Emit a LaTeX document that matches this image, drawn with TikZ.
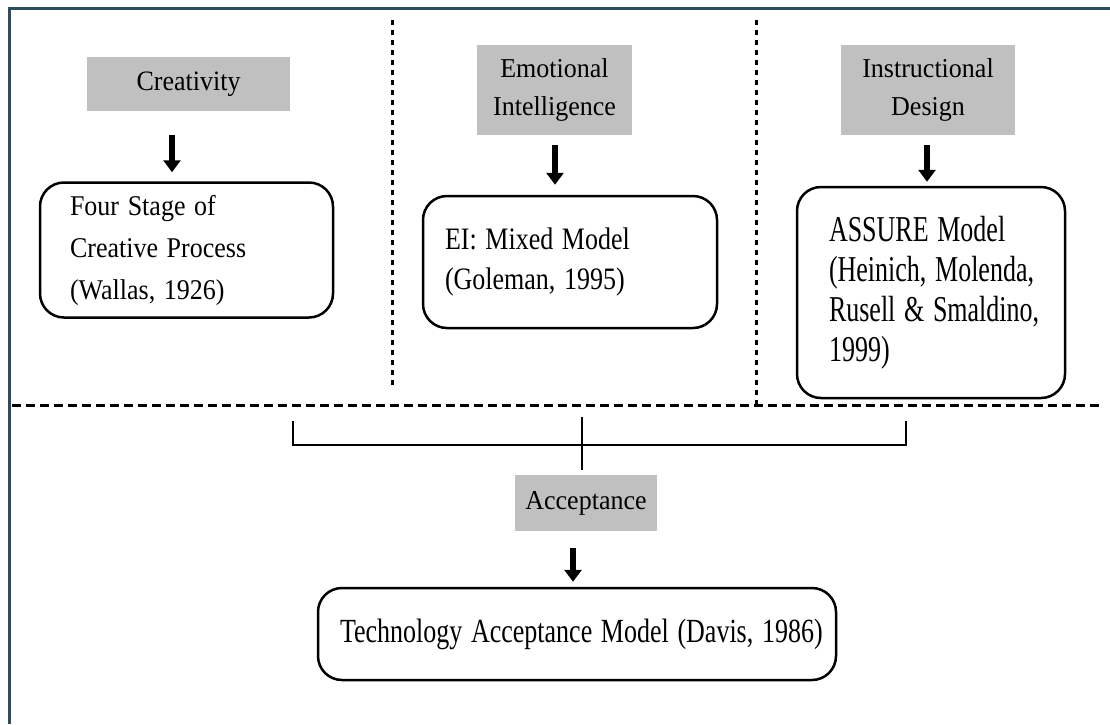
\documentclass[tikz,border=0pt]{standalone}
\usepackage{fontspec}
\setmainfont{Liberation Serif}
\usetikzlibrary{arrows.meta}
\newcommand\vsc[2]{\scalebox{1}[#1]{#2}}
\definecolor{frameblue}{HTML}{2F4B5C}
\definecolor{labgray}{HTML}{C0C0C0}
\begin{document}
\begin{tikzpicture}[x=1pt,y=-1pt,
  labelbox/.style={fill=labgray, inner sep=0pt, align=center, font=\fontsize{26}{38}\selectfont},
  modelbox/.style={draw, line width=2.5pt, rounded corners=24pt, inner ysep=0pt, align=left, font=\fontsize{26}{40}\selectfont},
  bigarrow/.style={line width=6pt, -{Triangle[width=17pt,length=12pt]}},
  sepline/.style={line width=3pt, dash pattern=on 9pt off 5pt},
  vsepline/.style={line width=3pt, dash pattern=on 5pt off 5pt},
  bracketline/.style={line width=2.5pt}]
\useasboundingbox (0,0) rectangle (1110,724);
\fill[white] (0,0) rectangle (1110,724);
\draw[frameblue, line width=3pt] (9,724) -- (9,8) -- (1110,8);

% labels
\node[labelbox, minimum width=203pt, minimum height=54pt] (cre) at (188.5,84) {\vsc{1.08}{Creativity}};
\node[labelbox, minimum width=155pt, minimum height=90pt] (emo) at (554.5,90) {\vsc{1.05}{Emotional}\\\vsc{1.05}{Intelligence}};
\node[labelbox, minimum width=174pt, minimum height=90pt] (ins) at (928,90) {\vsc{1.05}{Instructional}\\\vsc{1.05}{Design}};
\node[labelbox, minimum width=142pt, minimum height=56pt] (acc) at (586,503) {\vsc{1.05}{Acceptance}};

% model boxes
\node[modelbox, font=\fontsize{26}{42}\selectfont, text width=233pt, inner xsep=30pt, minimum height=135pt] (b1) at (186.5,250)
  {\vsc{1.1}{Four Stage of}\\\vsc{1.1}{Creative Process}\\\vsc{1.1}{(Wallas, 1926)}};
\node[modelbox, text width=250pt, inner xsep=22pt, minimum height=132pt] (b2) at (570,262)
  {\vsc{1.2}{EI: Mixed Model}\\\vsc{1.2}{(Goleman, 1995)}};
\node[modelbox, text width=204pt, inner xsep=32pt, minimum height=211pt] (b3) at (931,292.5)
  {\vsc{1.4}{ASSURE Model}\\\vsc{1.4}{(Heinich, Molenda,}\\\vsc{1.4}{Rusell \& Smaldino,}\\\vsc{1.4}{1999)}};
\node[modelbox, text width=474pt, inner xsep=22pt, minimum height=92pt] (b4) at (577,634)
  {\vsc{1.3}{Technology Acceptance Model (Davis, 1986)}};

% arrows
\coordinate (x1) at (172,0);
\coordinate (x2) at (555,0);
\coordinate (x3) at (927,0);
\coordinate (x4) at (573,0);
\draw[bigarrow, shorten <=24pt, shorten >=9pt] (cre.south -| x1) -- (b1.north -| x1);
\draw[bigarrow, shorten <=10pt, shorten >=10pt] (emo.south -| x2) -- (b2.north -| x2);
\draw[bigarrow, shorten <=10pt, shorten >=4pt] (ins.south -| x3) -- (b3.north -| x3);
\draw[bigarrow, shorten <=17pt, shorten >=5pt] (acc.south -| x4) -- (b4.north -| x4);

% separators
\coordinate (hl) at (12,405);
\coordinate (hr) at (1103,405);
\draw[sepline] (hl) -- (hr);
\coordinate (v1t) at (392,20);
\coordinate (v1b) at (392,385);
\coordinate (v2t) at (756,20);
\coordinate (v2b) at (756,405);
\draw[vsepline] (v1t) -- (v1b);
\draw[vsepline] (v2t) -- (v2b);

% bracket
\coordinate (bl) at (293,421);
\coordinate (br) at (906,421);
\coordinate (bc) at (582,417);
\draw[bracketline] (bl) -- (293,445) -- (906,445) -- (br);
\draw[bracketline, shorten >=5pt] (bc) -- (acc.north -| bc);
\end{tikzpicture}
\end{document}
